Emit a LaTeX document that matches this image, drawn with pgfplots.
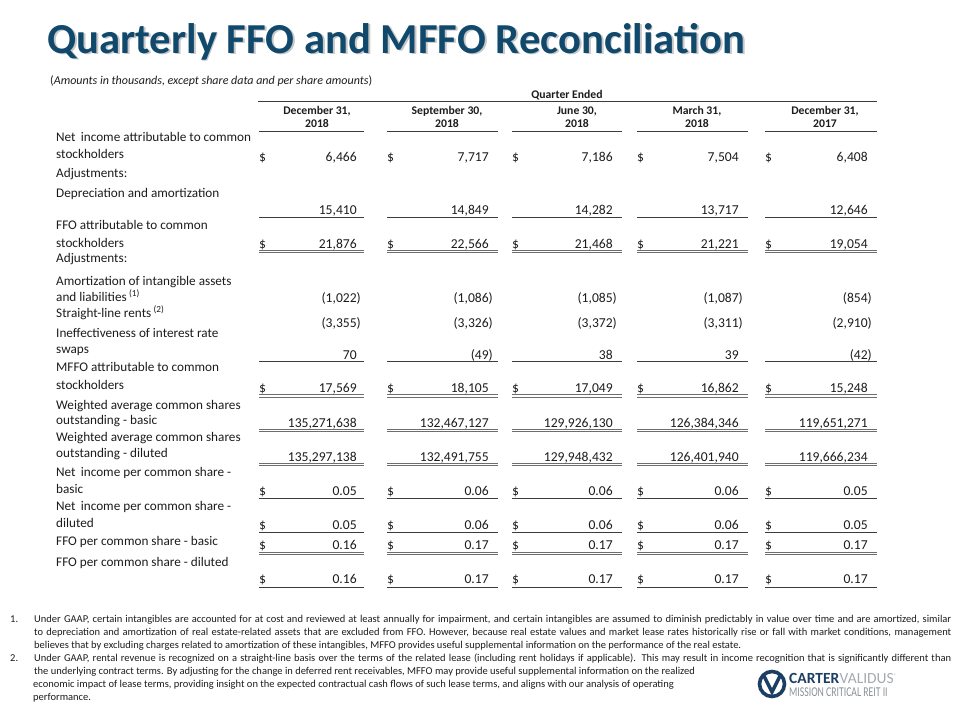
\documentclass[border=0pt]{standalone}
\usepackage{pgfplots}
\pgfplotsset{compat=1.18}
\usepackage{pgfplotstable}
\usepackage{xstring}
\usepackage{fontspec}
\setmainfont{Carlito}
\definecolor{titleblue}{RGB}{16,73,108}
\definecolor{txt}{RGB}{28,28,28}
\definecolor{rulec}{RGB}{60,60,60}
\definecolor{logoblue}{RGB}{28,62,100}
\definecolor{logogray}{RGB}{165,170,176}
\newcommand\bodyf{\fontsize{13.2}{15}\selectfont}
\newcommand\numf{\fontsize{13.6}{15}\selectfont}
\newcommand\headf{\fontsize{11.7}{13}\selectfont\bfseries}
\newcommand\notef{\fontsize{10.5}{13}\selectfont}
\newcommand\acct[1]{\IfEndWith{#1}{)}{#1}{#1\hphantom{)}}}
\newcommand\fullline[1]{\makebox[917pt][s]{#1}}
\tikzset{
  lab/.style={anchor=base west, inner sep=0pt, font=\bodyf, text=txt},
  hd/.style={anchor=base, inner sep=0pt, font=\headf, text=txt},
  fn/.style={anchor=base west, inner sep=0pt, font=\notef, text=txt},
}

% values, one row per table line: baseline y, then the five quarters
\pgfplotstableread{
y c1 c2 c3 c4 c5
161 6,466 7,717 7,186 7,504 6,408
214 15,410 14,849 14,282 13,717 12,646
248 21,876 22,566 21,468 21,221 19,054
302 (1,022) (1,086) (1,085) (1,087) (854)
327 (3,355) (3,326) (3,372) (3,311) (2,910)
359 70 (49) 38 39 (42)
392 17,569 18,105 17,049 16,862 15,248
427 135,271,638 132,467,127 129,926,130 126,384,346 119,651,271
461 135,297,138 132,491,755 129,948,432 126,401,940 119,666,234
495 0.05 0.06 0.06 0.06 0.05
529 0.05 0.06 0.06 0.06 0.05
549 0.16 0.17 0.17 0.17 0.17
583 0.16 0.17 0.17 0.17 0.17
}\values
% rows that carry a dollar sign
\pgfplotstableread{
y
161
248
392
495
529
549
583
}\dollarrows

\newcommand\segs[1]{(axis cs:259,#1) -- (axis cs:364,#1) (axis cs:387,#1) -- (axis cs:498,#1) (axis cs:512,#1) -- (axis cs:622,#1) (axis cs:637,#1) -- (axis cs:748,#1) (axis cs:765,#1) -- (axis cs:877,#1)}
\newcommand\sline[1]{\draw[rulec,line width=1pt] \segs{#1};}
\newcommand\dline[2]{\draw[rulec!75,line width=0.8pt] \segs{#1} \segs{#2};}

\pgfplotsset{
  valstyle/.style={draw=none, mark=none, nodes near coords={\acct{\pgfplotspointmeta}},
    point meta=explicit symbolic,
    nodes near coords align={anchor=base east},
    every node near coord/.append style={anchor=base east, inner sep=0pt, font=\numf, text=txt}},
  dolstyle/.style={draw=none, mark=none, nodes near coords={\$},
    nodes near coords align={anchor=base west},
    every node near coord/.append style={anchor=base west, inner sep=0pt, font=\numf, text=txt}},
}

\begin{document}
\begin{tikzpicture}
\path[use as bounding box] (0,0) rectangle (960pt,720pt);
\begin{axis}[at={(0,0)}, anchor=south west, scale only axis, width=960pt, height=720pt,
  xmin=0, xmax=960, ymin=0, ymax=720, y dir=reverse, hide axis, clip=false]

% title
\node[anchor=base west, inner sep=0pt, font=\fontsize{42.7}{43}\selectfont\bfseries, text=black!40, opacity=0.55] at (axis cs:48.8,54.8) {Quarterly FFO and MFFO Reconciliation};
\node[anchor=base west, inner sep=0pt, font=\fontsize{42.7}{43}\selectfont\bfseries, text=titleblue] at (axis cs:47,53) {Quarterly FFO and MFFO Reconciliation};
\node[anchor=base west, inner sep=0pt, font=\fontsize{12}{13}\selectfont, text=txt] at (axis cs:50,84) {(\textit{Amounts in thousands, except share data and per share amounts})};

% header
\node[hd] at (axis cs:567,98) {Quarter Ended};
\draw[rulec, line width=1pt] (axis cs:258,101) -- (axis cs:877,101);
\node[hd] at (axis cs:317,114) {December 31,};
\node[hd] at (axis cs:317,127) {2018};
\node[hd] at (axis cs:447,114) {September 30,};
\node[hd] at (axis cs:447,127) {2018};
\node[hd] at (axis cs:577,114) {June 30,};
\node[hd] at (axis cs:577,127) {2018};
\node[hd] at (axis cs:697,114) {March 31,};
\node[hd] at (axis cs:697,127) {2018};
\node[hd] at (axis cs:825,114) {December 31,};
\node[hd] at (axis cs:825,127) {2017};
\sline{131}

% row labels
\node[lab] at (axis cs:56,141) {Net\, income attributable to common};
\node[lab] at (axis cs:56,158) {stockholders};
\node[lab] at (axis cs:56,177) {Adjustments:};
\node[lab] at (axis cs:56,197) {Depreciation and amortization};
\node[lab] at (axis cs:56,229) {FFO attributable to common};
\node[lab] at (axis cs:56,247) {stockholders};
\node[lab] at (axis cs:56,262) {Adjustments:};
\node[lab] at (axis cs:56,285) {Amortization of intangible assets};
\node[lab] at (axis cs:56,301) {and liabilities\,\textsuperscript{(1)}};
\node[lab] at (axis cs:56,317) {Straight-line rents\,\textsuperscript{(2)}};
\node[lab] at (axis cs:56,337) {Ineffectiveness of interest rate};
\node[lab] at (axis cs:56,353) {swaps};
\node[lab] at (axis cs:56,371) {MFFO attributable to common};
\node[lab] at (axis cs:56,389) {stockholders};
\node[lab] at (axis cs:56,409) {Weighted average common shares};
\node[lab] at (axis cs:56,424) {outstanding - basic};
\node[lab] at (axis cs:56,441) {Weighted average common shares};
\node[lab] at (axis cs:56,457) {outstanding - diluted};
\node[lab] at (axis cs:56,476) {Net\, income per common share -};
\node[lab] at (axis cs:56,493) {basic};
\node[lab] at (axis cs:56,510) {Net\, income per common share -};
\node[lab] at (axis cs:56,527) {diluted};
\node[lab] at (axis cs:56,545) {FFO per common share - basic};
\node[lab] at (axis cs:56,566) {FFO per common share - diluted};

% values
\addplot[valstyle] table[x expr=361, y=y, meta=c1] {\values};
\addplot[valstyle] table[x expr=493, y=y, meta=c2] {\values};
\addplot[valstyle] table[x expr=617, y=y, meta=c3] {\values};
\addplot[valstyle] table[x expr=743, y=y, meta=c4] {\values};
\addplot[valstyle] table[x expr=872, y=y, meta=c5] {\values};

\addplot[dolstyle] table[x expr=259, y=y] {\dollarrows};
\addplot[dolstyle] table[x expr=387, y=y] {\dollarrows};
\addplot[dolstyle] table[x expr=512, y=y] {\dollarrows};
\addplot[dolstyle] table[x expr=637, y=y] {\dollarrows};
\addplot[dolstyle] table[x expr=765, y=y] {\dollarrows};

% rules under values
\sline{217}
\dline{250}{252.8}
\sline{361}
\dline{394.5}{397.3}
\dline{429}{431.8}
\dline{463}{465.8}
\sline{498}
\sline{532}
\dline{552}{554.8}
\sline{587}

% footnotes
\node[fn] at (axis cs:10,622) {1.};
\node[fn] at (axis cs:34,622) {\fullline{Under GAAP, certain intangibles are accounted for at cost and reviewed at least annually for impairment, and certain intangibles are assumed to diminish predictably in value over time and are amortized, similar}};
\node[fn] at (axis cs:34,635) {\fullline{to depreciation and amortization of real estate-related assets that are excluded from FFO. However, because real estate values and market lease rates historically rise or fall with market conditions, management}};
\node[fn] at (axis cs:34,648) {believes that by excluding charges related to amortization of these intangibles, MFFO provides useful supplemental information on the performance of the real estate.};
\node[fn] at (axis cs:10,661) {2.};
\node[fn] at (axis cs:34,661) {\fullline{Under GAAP, rental revenue is recognized on a straight-line basis over the terms of the related lease (including rent holidays if applicable). This may result in income recognition that is significantly different than}};
\node[fn] at (axis cs:34,674) {the underlying contract terms. By adjusting for the change in deferred rent receivables, MFFO may provide useful supplemental information on the realized};
\node[fn] at (axis cs:33,687) {economic impact of lease terms, providing insight on the expected contractual cash flows of such lease terms, and aligns with our analysis of operating};
\node[fn] at (axis cs:33,700) {performance.};

% logo
\draw[logoblue, line width=3.6pt] (axis cs:772,684) circle[radius=12.5pt];
\draw[logoblue, line width=3.4pt, line join=miter] (axis cs:764,676) -- (axis cs:772,692) -- (axis cs:781,674);
\node[anchor=base west, inner sep=0pt, font=\fontsize{15.5}{16}\selectfont\bfseries, text=logoblue] (carter) at (axis cs:789,683) {CARTER};
\node[anchor=base west, inner sep=0pt, font=\fontsize{15.5}{16}\selectfont, text=logogray] at (carter.base east) {VALIDUS\textsuperscript{\tiny\textregistered}};
\node[anchor=base west, inner sep=0pt, font=\fontsize{13.5}{14}\selectfont, text=logogray!85!black, xscale=0.72] at (axis cs:789,696) {MISSION CRITICAL REIT II};
\end{axis}
\end{tikzpicture}
\end{document}
